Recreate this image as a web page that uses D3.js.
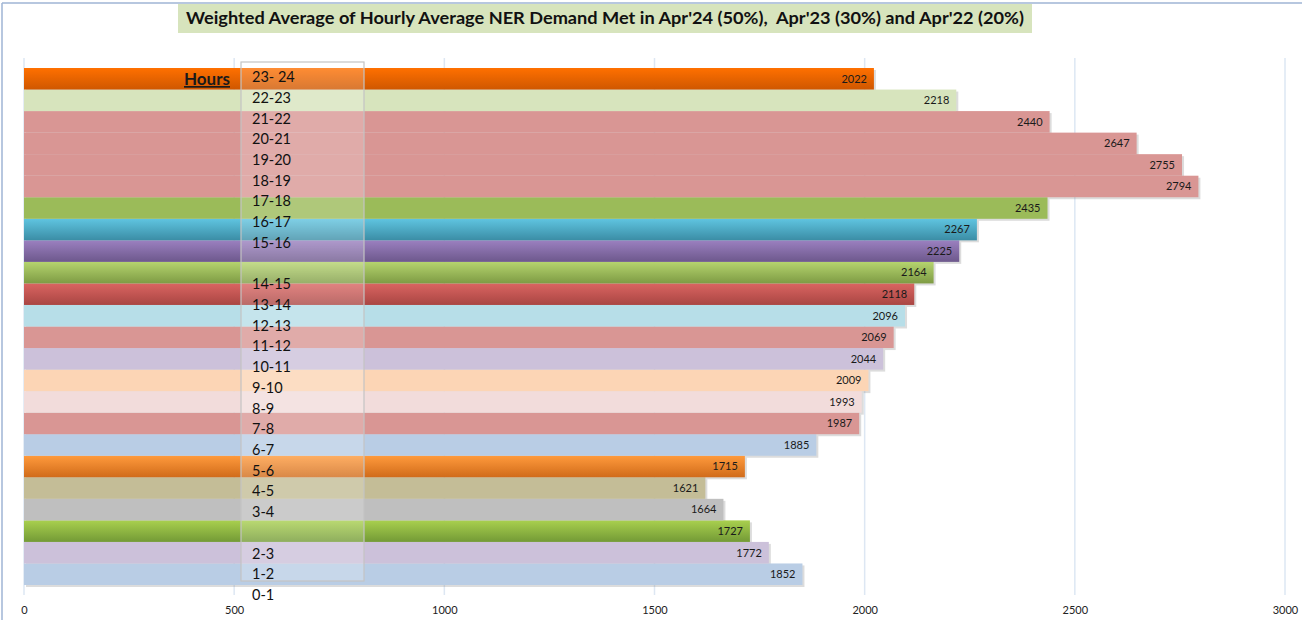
<!DOCTYPE html>
<html>
<head>
<meta charset="UTF-8">
<title>NER Demand Met</title>
<script src="https://d3js.org/d3.v7.min.js"></script>
<style>
  body { margin: 0; background: #fff; }
  text { font-family: Lato, "Open Sans", sans-serif; }
</style>
</head>
<body>
<div id="chart"></div>
<script>
// bars, bottom (0-1) to top (23-24)
var hours = ["0-1", "1-2", "2-3", "3-4", "4-5", "5-6", "6-7", "7-8", "8-9", "9-10", "10-11", "11-12",
             "12-13", "13-14", "14-15", "15-16", "16-17", "17-18", "18-19", "19-20", "20-21", "21-22", "22-23", "23-24"];
var demand = [1852, 1772, 1727, 1664, 1621, 1715, 1885, 1987, 1993, 2009, 2044, 2069,
              2096, 2118, 2164, 2225, 2267, 2435, 2794, 2755, 2647, 2440, 2218, 2022];

// text box lines as typed in the original sheet, top to bottom
var boxLabels = ["23- 24", "22-23", "21-22", "20-21", "19-20", "18-19", "17-18", "16-17", "15-16", "",
                 "14-15", "13-14", "12-13", "11-12", "10-11", "9-10", "8-9", "7-8", "6-7", "5-6",
                 "4-5", "3-4", "", "2-3", "1-2", "0-1"];

var xTicks = [0, 500, 1000, 1500, 2000, 2500, 3000];

var title = "Weighted Average of Hourly Average NER Demand Met in Apr'24 (50%),  Apr'23 (30%) and Apr'22 (20%)";

// fill per bar: one colour, or [top, bottom] for the gradient ones
var barFills = ["#b9cde5", "#ccc1da", ["#a9d04e", "#739a36"], "#bfbfbf", "#c4bd97", ["#ff9a3c", "#d06b1a"],
                "#b9cde5", "#d99694", "#f2dcdb", "#fcd5b5", "#ccc1da", "#d99694",
                "#b7dee8", ["#da6461", "#a94643"], ["#b5d46e", "#7e9b44"], ["#9b80c0", "#6d588c"],
                ["#5fc4e0", "#3b8da5"], "#9bbb59", "#d99694", "#d99694", "#d99694", "#d99694",
                "#d7e4bd", ["#ff7000", "#cf5700"]];

var W = 1302, H = 620;

var svg = d3.select("#chart").append("svg")
    .attr("width", W)
    .attr("height", H);

var defs = svg.append("defs");

// frame
svg.append("line").attr("x1", 2).attr("x2", W).attr("y1", 3).attr("y2", 3)
    .attr("stroke", "#9fb5d5").attr("stroke-width", 1.5);
svg.append("line").attr("x1", 2).attr("x2", 2).attr("y1", 3).attr("y2", H)
    .attr("stroke", "#9fb5d5").attr("stroke-width", 1.5);

// title
svg.append("rect").attr("x", 178).attr("y", 4).attr("width", 854).attr("height", 29)
    .attr("fill", "#d7e4bd");
svg.append("text")
    .attr("x", 605).attr("y", 24)
    .attr("text-anchor", "middle")
    .attr("font-size", 17).attr("font-weight", "bold")
    .attr("fill", "#111")
    .attr("textLength", 838).attr("lengthAdjust", "spacingAndGlyphs")
    .style("white-space", "pre")
    .text(title);

var x = d3.scaleLinear().domain([0, 3000]).range([24, 1285]);
var y = d3.scaleBand().domain(hours.slice().reverse()).range([68, 585]).padding(0);

// gridlines
svg.append("g").selectAll("line")
    .data(xTicks)
    .join("line")
    .attr("x1", d => x(d)).attr("x2", d => x(d))
    .attr("y1", 58).attr("y2", 595)
    .attr("stroke", "#dde7f3").attr("stroke-width", 1.5);

// x axis labels
var xAxis = svg.append("g")
    .attr("transform", "translate(0,603)")
    .call(d3.axisBottom(x).tickValues(xTicks).tickSize(0).tickFormat(d3.format("d")));
xAxis.select(".domain").remove();
xAxis.selectAll("text").attr("font-size", 11).attr("fill", "#222")
    .style("font-family", "Lato, 'Open Sans', sans-serif");

var rows = hours.map(function(h, i) {
  return { hour: h, value: demand[i], fill: barFills[i], i: i };
});

rows.forEach(function(d) {
  if (Array.isArray(d.fill)) {
    var g = defs.append("linearGradient").attr("id", "g" + d.i)
        .attr("x1", 0).attr("y1", 0).attr("x2", 0).attr("y2", 1);
    g.append("stop").attr("offset", "0%").attr("stop-color", d.fill[0]);
    g.append("stop").attr("offset", "100%").attr("stop-color", d.fill[1]);
  }
});

// shadows, then bars
svg.append("g").selectAll("rect")
    .data(rows)
    .join("rect")
    .attr("x", x(0) + 2)
    .attr("y", d => y(d.hour) + 2)
    .attr("width", d => x(d.value) - x(0))
    .attr("height", y.bandwidth())
    .attr("fill", "#8c8c8c")
    .attr("opacity", 0.3);

svg.append("g").selectAll("rect")
    .data(rows)
    .join("rect")
    .attr("x", x(0))
    .attr("y", d => y(d.hour))
    .attr("width", d => x(d.value) - x(0))
    .attr("height", y.bandwidth())
    .attr("fill", d => Array.isArray(d.fill) ? "url(#g" + d.i + ")" : d.fill);

// value labels
svg.append("g").selectAll("text")
    .data(rows)
    .join("text")
    .attr("x", d => x(d.value) - 7)
    .attr("y", d => y(d.hour) + y.bandwidth() / 2)
    .attr("dy", "0.35em")
    .attr("text-anchor", "end")
    .attr("font-size", 11)
    .attr("fill", "#1a1a1a")
    .text(d => d.value);

// "Hours" heading
svg.append("text")
    .attr("x", 230).attr("y", 85)
    .attr("text-anchor", "end")
    .attr("font-size", 17).attr("font-weight", "bold")
    .attr("text-decoration", "underline")
    .attr("fill", "#1a1a1a")
    .text("Hours");

// overlaid text box with hour labels
svg.append("rect")
    .attr("x", 241).attr("y", 62).attr("width", 123).attr("height", 519)
    .attr("fill", "#fff").attr("fill-opacity", 0.2)
    .attr("stroke", "#c4c4c4").attr("stroke-width", 1.2);

var ly = d3.scalePoint().domain(d3.range(boxLabels.length)).range([77, 595]);

svg.append("g").selectAll("text")
    .data(boxLabels)
    .join("text")
    .attr("x", 252)
    .attr("y", (d, i) => ly(i))
    .attr("dy", "0.35em")
    .attr("font-size", 14.5)
    .attr("fill", "#111")
    .text(d => d);
</script>
</body>
</html>
